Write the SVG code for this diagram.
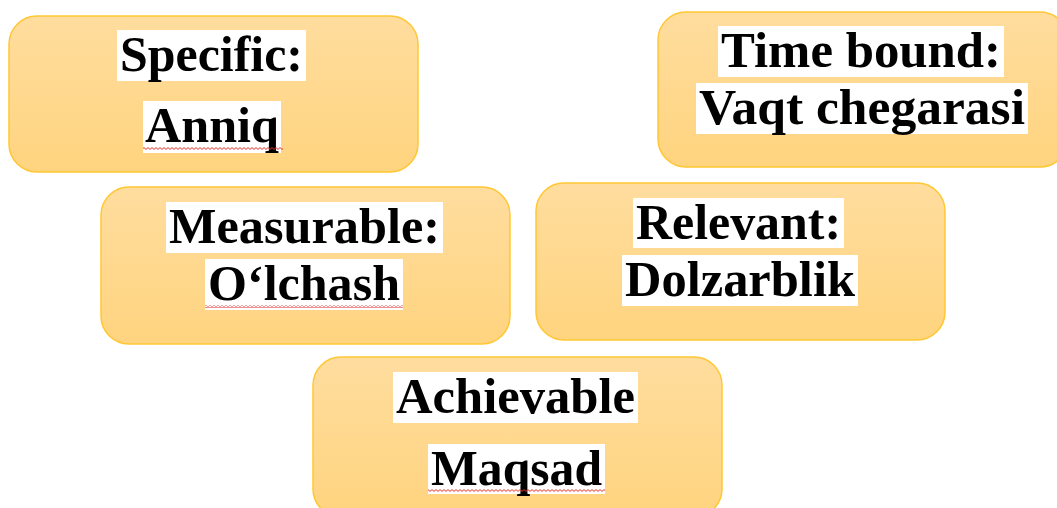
<svg xmlns="http://www.w3.org/2000/svg" width="1057" height="508" viewBox="0 0 1057 508">
<defs>
<linearGradient id="g" x1="0" y1="0" x2="0" y2="1">
<stop offset="0" stop-color="#FFDD9E"/>
<stop offset="1" stop-color="#FFD47F"/>
</linearGradient>
<pattern id="wave" x="0" y="0" width="4" height="3" patternUnits="userSpaceOnUse">
<path d="M0 0.6 L2 2.4 L4 0.6" fill="none" stroke="#E8302A" stroke-width="1"/>
</pattern>
<style>
.box{fill:url(#g);stroke:#FFC733;stroke-width:1.5}
.hl{fill:#FFFFFF}
.t{font-family:"Liberation Serif","Times New Roman",serif;font-weight:bold;font-size:50px;fill:#000;text-anchor:middle}
.sq{fill:url(#wave)}
</style>
</defs>
<g id="specific">
<rect class="box" x="9" y="16" width="409" height="156" rx="28"/>
<rect class="hl" x="117" y="30" width="189" height="51"/>
<rect class="hl" x="143" y="101" width="138" height="52"/>
<text class="t" x="211.5" y="71" textLength="183" lengthAdjust="spacingAndGlyphs">Specific:</text>
<text class="t" x="212" y="142" textLength="134" lengthAdjust="spacingAndGlyphs">Anniq</text>
<rect class="sq" x="143" y="147" width="140" height="3"/>
</g>
<g id="timebound">
<rect class="box" x="658" y="12" width="410" height="155" rx="28"/>
<rect class="hl" x="718" y="26" width="286" height="51"/>
<rect class="hl" x="696" y="83" width="332" height="51"/>
<text class="t" x="861" y="67" textLength="280" lengthAdjust="spacingAndGlyphs">Time bound:</text>
<text class="t" x="862" y="124" textLength="326" lengthAdjust="spacingAndGlyphs">Vaqt chegarasi</text>
</g>
<g id="measurable">
<rect class="box" x="101" y="187" width="409" height="157" rx="28"/>
<rect class="hl" x="166" y="202" width="277" height="51"/>
<rect class="hl" x="205" y="259" width="198" height="51"/>
<text class="t" x="304.5" y="243" textLength="271" lengthAdjust="spacingAndGlyphs">Measurable:</text>
<text class="t" x="304" y="300" textLength="192" lengthAdjust="spacingAndGlyphs">O‘lchash</text>
<rect class="sq" x="205" y="305" width="198" height="3"/>
</g>
<g id="relevant">
<rect class="box" x="536" y="183" width="409" height="157" rx="28"/>
<rect class="hl" x="633" y="198" width="211" height="50"/>
<rect class="hl" x="622" y="255" width="236" height="51"/>
<text class="t" x="738.5" y="239" textLength="205" lengthAdjust="spacingAndGlyphs">Relevant:</text>
<text class="t" x="740" y="296" textLength="230" lengthAdjust="spacingAndGlyphs">Dolzarblik</text>
</g>
<g id="achievable">
<rect class="box" x="313" y="357" width="409" height="160" rx="28"/>
<rect class="hl" x="393" y="372" width="245" height="51"/>
<rect class="hl" x="428" y="444" width="177" height="50"/>
<text class="t" x="515.5" y="413" textLength="239" lengthAdjust="spacingAndGlyphs">Achievable</text>
<text class="t" x="516.5" y="485" textLength="171" lengthAdjust="spacingAndGlyphs">Maqsad</text>
<rect class="sq" x="428" y="489" width="177" height="3"/>
</g>
<g id="connectors"/>
</svg>
